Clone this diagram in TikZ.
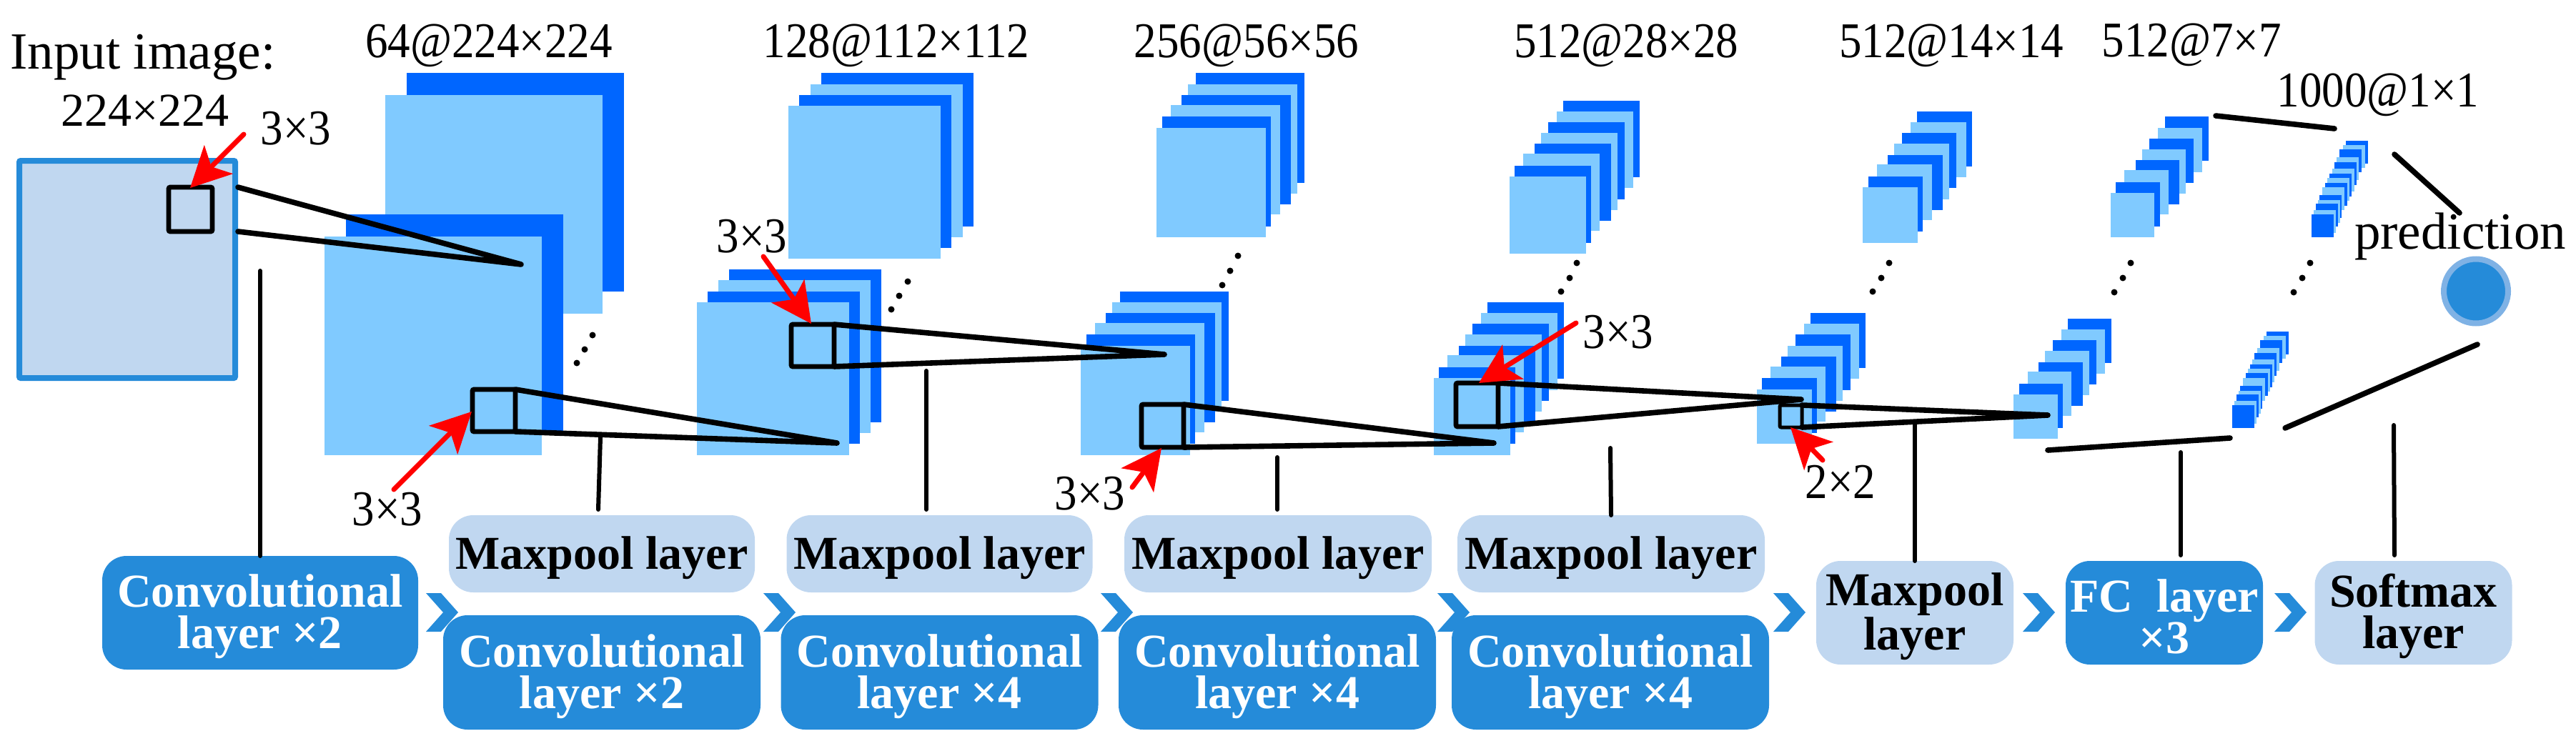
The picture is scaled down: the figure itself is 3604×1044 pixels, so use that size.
\documentclass[tikz,border=0pt]{standalone}
\usepackage{fontspec}
\setmainfont[FakeStretch=0.9]{Liberation Serif}
\newfontfamily\boxfont{Liberation Serif}
\usetikzlibrary{arrows.meta}
\definecolor{sheetdeep}{HTML}{0066FF}
\definecolor{sheetlight}{HTML}{80CAFF}
\definecolor{convblue}{HTML}{258BD9}
\definecolor{poolblue}{HTML}{C0D7F0}
\definecolor{ringblue}{HTML}{7FB2E5}
\tikzset{
  d/.style={fill=sheetdeep},
  l/.style={fill=sheetlight},
  lab/.style={anchor=base,inner sep=0pt,outer sep=0pt,font=\fontsize{35}{40}\selectfont},
  wordlab/.style={anchor=base,inner sep=0pt,outer sep=0pt,font=\boxfont\fontsize{36.5}{40}\selectfont},
  sizelab/.style={anchor=base,inner sep=0pt,outer sep=0pt,font=\boxfont\fontsize{33}{40}\selectfont},
  layerbox/.style={rounded corners=17pt,inner sep=0pt,outer sep=0pt,align=center,
     font=\boxfont\bfseries\fontsize{33}{29}\selectfont},
  convbox/.style={layerbox,fill=convblue,text=white},
  poolbox/.style={layerbox,fill=poolblue,text=black},
  wide/.style={minimum width=222pt},
  narrow/.style={minimum width=138pt,minimum height=72.5pt},
  funnel/.style={draw=black,line width=3.8pt,line cap=round,line join=round},
  tie/.style={draw=black,line width=3pt,line cap=round},
  kernel/.style={draw=black,line width=3.3pt,rounded corners=1pt,inner sep=0pt,outer sep=0pt},
  redarrow/.style={draw=red,line width=3.5pt,line cap=round,-{Stealth[length=28pt,width=28pt,inset=7pt,fill=red]}},
  chevronmark/.style={fill=convblue},
  dotmark/.style={fill=black},
}
\newcommand{\sheets}[1]{\foreach \k/\xa/\ya/\xb/\yb in {#1}{\path[\k] (\xa,\ya) rectangle (\xb,\yb);}}
\newcommand{\tinysheets}[1]{\foreach \k/\xa/\ya in {#1}{\path[\k] (\xa,\ya) rectangle ++(31,32);}}
\newcommand{\threedots}[6]{\fill[dotmark] (#1,#2) circle (4.5) (#3,#4) circle (4.5) (#5,#6) circle (4.5);}
\newcommand{\chev}[1]{\path[chevronmark] (#1,830) -- ++(21,0) -- ++(24,27) -- ++(-24,27) -- ++(-21,0) -- ++(24,-27) -- cycle;}
\newcommand{\boxtop}{\rule{0pt}{28.5pt}}
\begin{document}
\begin{tikzpicture}[x=0.5pt,y=-0.5pt]
\useasboundingbox (0,0) rectangle (3604,1044);
% ---- input image
\node[draw=convblue,fill=poolblue,line width=4pt,rounded corners=1pt,inner sep=0pt,outer sep=0pt,
      minimum width=151pt,minimum height=152pt] (input) at (178,377) {};
% ---- stacks
\sheets{d/569/102/873/408,l/539/133/843/439,d/484/300/788/605,l/454/331/758/637}
\sheets{d/1149/102/1362/317,l/1134/118/1347/332,d/1118/133/1331/347,l/1103/148/1316/362}
\sheets{d/1020/377/1233/591,l/1005/392/1218/606,d/990/408/1203/621,l/975/423/1188/637}
\sheets{d/1673/102/1825/256,l/1662/118/1815/271,d/1653/133/1806/286,l/1638/147/1791/300,d/1626/163/1778/317,l/1618/179/1771/332}
\sheets{d/1567/408/1719/561,l/1556/423/1709/576,d/1547/438/1700/591,l/1532/452/1685/605,d/1520/468/1672/621,l/1512/484/1665/637}
\sheets{d/2187/141/2294/248,l/2178/156/2285/263,d/2166/171/2273/279,l/2156/186/2263/294,d/2147/201/2254/309,l/2131/215/2238/323,d/2119/232/2226/340,l/2112/247/2219/355}
\sheets{d/2081/423/2188/530,l/2072/438/2179/546,d/2060/453/2167/561,l/2050/468/2157/576,d/2041/484/2148/591,l/2025/497/2132/605,d/2013/514/2120/621,l/2006/529/2113/637}
\sheets{d/2682/156/2759/233,l/2673/171/2751/248,d/2661/186/2737/263,l/2650/201/2727/279,d/2641/217/2718/294,l/2626/230/2703/308,d/2614/247/2690/324,l/2606/262/2683/340}
\sheets{d/2533/438/2610/515,l/2524/453/2601/530,d/2512/468/2589/546,l/2501/484/2578/561,d/2492/499/2569/576,l/2477/513/2554/590,d/2465/529/2542/606,l/2458/545/2535/621}
\sheets{d/3029/163/3090/225,l/3019/179/3081/241,d/3007/194/3069/256,l/2997/209/3058/271,d/2988/224/3049/286,l/2972/238/3034/300,d/2960/255/3022/317,l/2953/270/3014/332}
\sheets{d/2893/446/2954/508,l/2884/461/2945/523,d/2872/476/2933/538,l/2861/491/2923/553,d/2852/507/2914/568,l/2837/520/2898/582,d/2825/537/2886/599,l/2817/552/2879/614}
\tinysheets{d/3282/197,l/3278/203,d/3273/209,l/3269/220,d/3266/227,l/3263/236,d/3259/243,l/3256/249,d/3253/256,l/3249/262,d/3245/273,l/3243/280,d/3240/285,l/3237/294,d/3234/300}
\tinysheets{d/3171/464,l/3167/470,d/3162/476,l/3158/487,d/3154/494,l/3151/503,d/3148/510,l/3145/516,d/3142/522,l/3138/529,d/3134/540,l/3132/547,d/3129/552,l/3126/561,d/3123/567}
% ---- ellipsis dots
\threedots{829}{469}{818}{489}{807}{508}
\threedots{1270}{394}{1258}{414}{1247}{433}
\threedots{1732}{358}{1721}{379}{1710}{399}
\threedots{2206}{368}{2196}{389}{2184}{408}
\threedots{2643}{368}{2632}{389}{2620}{408}
\threedots{2981}{368}{2970}{389}{2958}{409}
\threedots{3232}{368}{3221}{389}{3209}{409}
% ---- kernel windows
\node[kernel,minimum width=30.5pt,minimum height=31pt] (k1) at (266.5,293) {};
\node[kernel,minimum width=30pt,minimum height=29.5pt] (k2) at (691,574.5) {};
\node[kernel,minimum width=30pt,minimum height=29.5pt] (k3) at (1137,483.5) {};
\node[kernel,minimum width=29.5pt,minimum height=30pt] (k4) at (1626.5,596) {};
\node[kernel,minimum width=29.5pt,minimum height=30.5pt] (k5) at (2066.5,566.5) {};
\node[kernel,line width=2.5pt,minimum width=15.5pt,minimum height=15.5pt] (k6) at (2505.5,582.5) {};
% ---- funnel tips and free ends
\coordinate (in1) at (333,262); \coordinate (in2) at (333,324);
\coordinate (t1) at (729,370); \coordinate (t2) at (1171,620); \coordinate (t3) at (1629,496);
\coordinate (t4) at (2090,620); \coordinate (t5) at (2520,559); \coordinate (t6) at (2865,581);
\draw[funnel] (in1) -- (t1) -- (in2);
\draw[funnel] (k2.north east) -- (t2) -- (k2.south east);
\draw[funnel] (k3.north east) -- (t3) -- (k3.south east);
\draw[funnel] (k4.north east) -- (t4) -- (k4.south east);
\draw[funnel] (k5.north east) -- (t5) -- (k5.south east);
\draw[funnel] (k6.north east) -- (t6) -- (k6.south east);
% ---- fc links
\coordinate (f1) at (3100,162); \coordinate (f2) at (3266,180);
\coordinate (f3) at (2865,630); \coordinate (f4) at (3120,613);
\coordinate (f5) at (3197,599); \coordinate (f6) at (3466,482);
\coordinate (f7) at (3350,216); \coordinate (f8) at (3441,298);
\draw[funnel] (f1) -- (f2); \draw[funnel] (f3) -- (f4); \draw[funnel] (f5) -- (f6); \draw[funnel] (f7) -- (f8);
% ---- prediction circle
\node[circle,draw=ringblue,fill=convblue,line width=4pt,minimum size=45pt,inner sep=0pt] (pred) at (3464,407.5) {};
% ---- labels
\node[wordlab] (lblinput) at (200,96) {Input image:};
\node[sizelab] (lblinputsize) at (203,176) {224×224};
\node[lab] (k1lab) at (414,202) {3×3};
\node[lab] (k2lab) at (542,735) {3×3};
\node[lab] (k3lab) at (1052,353) {3×3};
\node[lab] (k4lab) at (1525,713) {3×3};
\node[lab] (k5lab) at (2264,487) {3×3};
\node[lab] (k6lab) at (2575,697) {2×2};
\node[lab] (s1) at (684,80) {64@224×224};
\node[lab] (s2) at (1254,80) {128@112×112};
\node[lab] (s3) at (1744,80) {256@56×56};
\node[lab] (s4) at (2275,80) {512@28×28};
\node[lab] (s5) at (2730,80) {512@14×14};
\node[lab] (s6) at (3066,79) {512@7×7};
\node[lab] (s7) at (3327,149) {1000@1×1};
\node[wordlab] (predlab) at (3442,348) {prediction};
% ---- red arrows
\coordinate (r1a) at (341,188); \coordinate (r1b) at (266,263);
\coordinate (r2a) at (551,685); \coordinate (r2b) at (660,576);
\coordinate (r3a) at (1068,359); \coordinate (r3b) at (1135,453);
\coordinate (r4a) at (1584,682); \coordinate (r4b) at (1625,627);
\coordinate (r5a) at (2205,452); \coordinate (r5b) at (2069,536);
\coordinate (r6a) at (2550,644); \coordinate (r6b) at (2505,598);
\draw[redarrow] (r1a) -- (r1b);
\draw[redarrow] (r2a) -- (r2b);
\draw[redarrow] (r3a) -- (r3b);
\draw[redarrow] (r4a) -- (r4b);
\draw[redarrow] (r5a) -- (r5b);
\draw[redarrow] (r6a) -- (r6b);
% ---- layer boxes
\node[convbox,minimum width=221pt,minimum height=79.5pt] (c1) at (364,857.5) {\boxtop Convolutional\\layer ×2};
\node[poolbox,minimum width=214pt,minimum height=54pt] (p1) at (842,775) {\boxtop Maxpool layer};
\node[poolbox,minimum width=214pt,minimum height=54pt] (p2) at (1314.5,775) {\boxtop Maxpool layer};
\node[poolbox,minimum width=215pt,minimum height=54pt] (p3) at (1788,775) {\boxtop Maxpool layer};
\node[poolbox,minimum width=215pt,minimum height=54pt] (p4) at (2254,775) {\boxtop Maxpool layer};
\node[convbox,wide,minimum height=80pt] (c2) at (842,941) {\boxtop Convolutional\\layer ×2};
\node[convbox,wide,minimum height=80pt] (c3) at (1314.5,941) {\boxtop Convolutional\\layer ×4};
\node[convbox,wide,minimum height=80pt] (c4) at (1787,941) {\boxtop Convolutional\\layer ×4};
\node[convbox,wide,minimum height=80pt] (c5) at (2253,941) {\boxtop Convolutional\\layer ×4};
\node[poolbox,narrow] (p5) at (2679,857.5) {\boxtop Maxpool\\layer};
\node[convbox,narrow] (fc) at (3028,857.5) {\boxtop FC\ \ layer\\×3};
\node[poolbox,narrow] (sm) at (3376.5,857.5) {\boxtop Softmax\\layer};
% ---- chevrons
\chev{596}\chev{1068}\chev{1540}\chev{2011}\chev{2481}\chev{2830}\chev{3182}
% ---- ties from stacks down to boxes
\coordinate (v1) at (364,379);
\coordinate (v2a) at (840,612); \coordinate (v2b) at (837,713);
\coordinate (v3a) at (1296,519); \coordinate (v3b) at (1296,713);
\coordinate (v4a) at (1787,640); \coordinate (v4b) at (1787,713);
\coordinate (v5a) at (2253,627);
\coordinate (v6a) at (2679,594);
\coordinate (v7a) at (3051,633); \coordinate (v7b) at (3051,777);
\coordinate (v8a) at (3349,595); \coordinate (v8b) at (3350,777);
\draw[tie] (v1) -- (c1.north);
\draw[tie] (v2a) -- (v2b);
\draw[tie] (v3a) -- (v3b);
\draw[tie] (v4a) -- (v4b);
\draw[tie] (v5a) -- (p4.north);
\draw[tie] (v6a) -- (p5.north);
\draw[tie] (v7a) -- (v7b);
\draw[tie] (v8a) -- (v8b);
\end{tikzpicture}
\end{document}
